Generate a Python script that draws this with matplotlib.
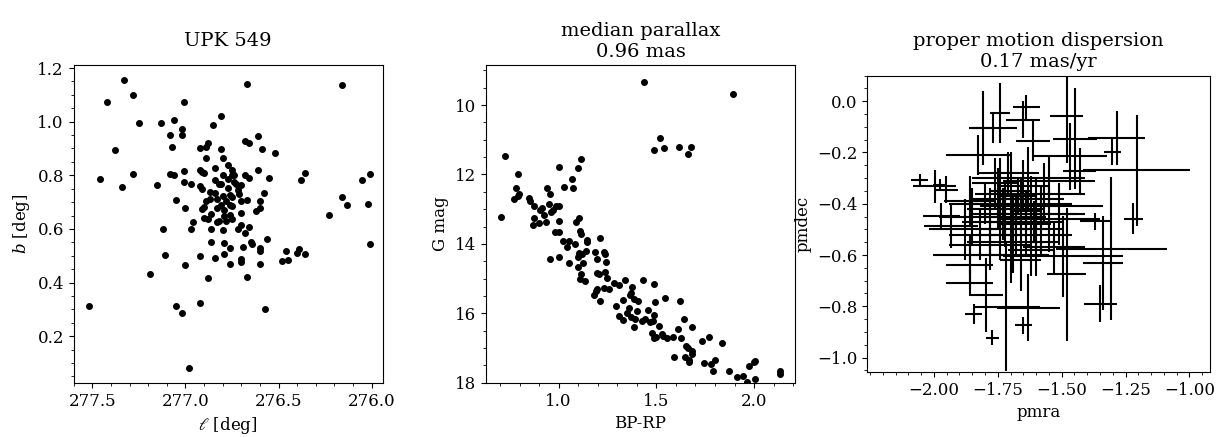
import matplotlib.pyplot as plt
from matplotlib.ticker import AutoMinorLocator

plt.rcParams["font.family"] = "DejaVu Serif"
plt.rcParams["font.size"] = 12
plt.rcParams["mathtext.fontset"] = "dejavuserif"

# panel 1: galactic coordinates
gal_l = [277.52, 277.46, 277.42, 277.38, 277.33, 277.34, 277.28, 277.28, 277.25, 277.19,
         277.15, 277.13, 277.12, 277.11, 277.08, 277.07, 277.06, 277.08, 277.06, 277.05,
         277.05, 277.02, 277.02, 277.02, 277.01, 277.01, 277.01, 277.00, 277.00, 276.98,
         276.97, 276.97, 276.96, 276.92, 276.92, 276.92, 276.92, 276.91, 276.90, 276.92,
         276.91, 276.89, 276.89, 276.88, 276.91, 276.90, 276.89, 276.90, 276.88, 276.88,
         276.87, 276.87, 276.86, 276.86, 276.86, 276.85, 276.84, 276.84, 276.84, 276.84,
         276.83, 276.83, 276.83, 276.82, 276.82, 276.81, 276.81, 276.81, 276.81, 276.80,
         276.80, 276.80, 276.80, 276.79, 276.79, 276.79, 276.79, 276.78, 276.78, 276.77,
         276.77, 276.77, 276.76, 276.76, 276.76, 276.76, 276.76, 276.75, 276.75, 276.75,
         276.75, 276.75, 276.74, 276.74, 276.73, 276.72, 276.72, 276.71, 276.70, 276.70,
         276.70, 276.70, 276.70, 276.70, 276.69, 276.68, 276.68, 276.68, 276.67, 276.67,
         276.67, 276.66, 276.66, 276.66, 276.65, 276.64, 276.62, 276.61, 276.61, 276.60,
         276.60, 276.60, 276.60, 276.60, 276.59, 276.58, 276.56, 276.57, 276.55, 276.52,
         276.48, 276.46, 276.45, 276.40, 276.39, 276.38, 276.36, 276.36, 276.23, 276.16,
         276.16, 276.13, 276.05, 276.02, 276.01, 276.01]
gal_b = [0.312, 0.785, 1.072, 0.896, 1.156, 0.755, 1.100, 0.806, 0.996, 0.431,
         0.762, 0.996, 0.598, 0.504, 0.950, 0.907, 1.007, 0.806, 0.800, 0.708,
         0.312, 0.285, 0.950, 0.974, 1.072, 0.816, 0.775, 0.678, 0.466, 0.083,
         0.598, 0.769, 0.624, 0.500, 0.322, 0.903, 0.821, 0.814, 0.810, 0.760,
         0.750, 0.863, 0.906, 0.919, 0.676, 0.682, 0.704, 0.642, 0.417, 0.636,
         0.739, 0.711, 0.601, 0.552, 0.656, 0.986, 0.733, 0.829, 0.781, 0.493,
         0.679, 0.625, 0.711, 0.767, 0.628, 0.688, 1.022, 0.899, 0.767, 0.595,
         0.865, 0.801, 0.722, 0.507, 0.549, 0.647, 0.671, 0.631, 0.704, 0.752,
         0.788, 0.840, 0.726, 0.651, 0.471, 0.529, 0.688, 0.636, 0.718, 0.821,
         0.802, 0.684, 0.776, 0.801, 0.769, 0.747, 0.598, 0.730, 0.486, 0.476,
         0.660, 0.614, 0.704, 0.763, 0.532, 0.801, 0.584, 0.928, 1.139, 0.708,
         0.421, 0.606, 0.920, 0.789, 0.550, 0.543, 0.668, 0.948, 0.821, 0.528,
         0.517, 0.471, 0.704, 0.678, 0.898, 0.733, 0.562, 0.303, 0.791, 0.882,
         0.482, 0.516, 0.485, 0.512, 0.525, 0.784, 0.506, 0.810, 0.652, 1.137,
         0.720, 0.690, 0.783, 0.694, 0.543, 0.805]

# panel 2: colour-magnitude diagram
bp_rp = [0.705, 0.726, 0.790, 0.780, 0.773, 0.792, 0.795, 0.848, 0.855, 0.876,
         0.872, 0.867, 0.900, 0.906, 0.915, 0.923, 0.934, 0.940, 0.952, 0.956,
         0.961, 0.973, 0.985, 1.000, 1.000, 1.000, 0.980, 1.000, 0.956, 1.000,
         1.020, 1.026, 1.044, 1.053, 1.055, 1.070, 1.072, 1.082, 1.087, 1.100,
         1.114, 1.104, 1.112, 1.114, 1.102, 1.099, 1.120, 1.123, 1.100, 1.116,
         1.110, 1.133, 1.140, 1.145, 1.145, 1.186, 1.196, 1.196, 1.206, 1.213,
         1.230, 1.237, 1.242, 1.237, 1.248, 1.190, 1.197, 1.182, 1.211, 1.230,
         1.256, 1.285, 1.308, 1.295, 1.307, 1.332, 1.330, 1.342, 1.350, 1.360,
         1.366, 1.370, 1.378, 1.385, 1.368, 1.385, 1.391, 1.400, 1.404, 1.428,
         1.430, 1.436, 1.443, 1.458, 1.469, 1.477, 1.484, 1.487, 1.491, 1.487,
         1.486, 1.486, 1.498, 1.516, 1.520, 1.528, 1.535, 1.538, 1.544, 1.554,
         1.583, 1.591, 1.613, 1.617, 1.622, 1.625, 1.641, 1.649, 1.652, 1.661,
         1.663, 1.668, 1.668, 1.678, 1.685, 1.680, 1.680, 1.734, 1.743, 1.769,
         1.781, 1.790, 1.800, 1.838, 1.870, 1.893, 1.912, 1.944, 1.966, 1.976,
         1.999, 2.007, 2.007, 2.133, 2.135]
g_mag = [13.22, 11.48, 11.99, 12.38, 12.72, 12.61, 12.57, 12.69, 12.76, 12.90,
         13.24, 13.46, 13.40, 13.01, 12.96, 13.16, 13.37, 12.40, 12.84, 12.55,
         13.07, 13.01, 12.91, 11.78, 12.90, 13.33, 13.65, 13.66, 14.43, 14.39,
         13.93, 12.35, 14.09, 13.91, 14.54, 12.14, 12.39, 13.99, 13.37, 11.82,
         11.56, 13.24, 13.64, 13.71, 14.26, 14.37, 14.29, 14.55, 14.66, 14.88,
         15.02, 15.07, 14.19, 13.88, 13.95, 14.22, 14.42, 14.83, 14.88, 13.83,
         14.24, 14.80, 14.52, 14.29, 14.98, 15.35, 15.31, 15.46, 15.65, 15.28,
         15.31, 15.13, 15.17, 15.79, 16.08, 15.61, 16.20, 15.04, 15.98, 15.84,
         15.48, 15.42, 15.24, 15.60, 16.10, 16.38, 16.15, 15.93, 15.64, 16.21,
         15.04, 9.34, 16.17, 15.89, 16.25, 16.57, 16.22, 15.14, 15.67, 16.06,
         16.70, 11.29, 16.69, 16.35, 10.94, 16.58, 16.65, 11.24, 15.56, 16.71,
         16.69, 17.25, 16.44, 11.22, 15.64, 16.71, 16.15, 17.25, 16.93, 11.42,
         17.01, 17.34, 17.41, 11.22, 16.40, 17.16, 17.07, 16.80, 17.43, 16.67,
         17.46, 17.66, 17.33, 16.84, 17.65, 9.67, 17.83, 17.80, 17.97, 17.52,
         17.40, 17.38, 17.89, 17.65, 17.74]

# panel 3: proper motions with uncertainties
pmra = [-2.056, -1.978, -1.997, -1.971, -1.952, -1.932, -1.844, -1.771, -1.651, -1.631,
        -1.348, -1.220, -1.301, -1.207, -1.285, -1.638, -1.651, -1.808, -1.743, -1.612,
        -1.448, -1.481, -1.370, -1.305, -1.337, -1.481, -1.494, -1.860, -1.795, -1.716,
        -1.860, -1.860, -1.769, -1.429, -1.827, -1.468,
        -1.75, -1.72, -1.70, -1.68, -1.66, -1.64, -1.62, -1.60, -1.58, -1.78,
        -1.80, -1.74, -1.69, -1.65, -1.63, -1.71, -1.76, -1.67, -1.64, -1.69,
        -1.72, -1.60, -1.55, -1.57, -1.82, -1.85, -1.62, -1.70, -1.66, -1.58,
        -1.74, -1.53, -1.78, -1.61, -1.68, -1.86, -1.55, -1.88, -1.51, -1.73]
pmdec = [-0.308, -0.325, -0.332, -0.449, -0.345, -0.488, -0.829, -0.923, -0.875, -0.806,
         -0.790, -0.458, -0.198, -0.270, -0.143, -0.022, -0.072, -0.104, -0.046, -0.156,
         -0.146, -0.059, -0.468, -0.575, -0.631, -0.676, -0.605, -0.598, -0.755, -0.803,
         -0.638, -0.708, -0.104, -0.273, -0.208, -0.215,
         -0.38, -0.42, -0.35, -0.45, -0.40, -0.48, -0.38, -0.44, -0.50, -0.47,
         -0.40, -0.52, -0.55, -0.33, -0.30, -0.28, -0.32, -0.37, -0.43, -0.42,
         -0.47, -0.52, -0.46, -0.36, -0.52, -0.45, -0.58, -0.60, -0.62, -0.41,
         -0.36, -0.57, -0.56, -0.47, -0.50, -0.39, -0.31, -0.50, -0.44, -0.44]
pmra_err = [0.033, 0.026, 0.085, 0.072, 0.046, 0.105, 0.033, 0.024, 0.033, 0.124,
            0.063, 0.037, 0.033, 0.209, 0.111, 0.052, 0.065, 0.046, 0.039, 0.065,
            0.085, 0.065, 0.059, 0.216, 0.078, 0.078, 0.235, 0.144, 0.065, 0.131,
            0.092, 0.092, 0.095, 0.065, 0.124, 0.144,
            0.10, 0.15, 0.08, 0.12, 0.20, 0.10, 0.13, 0.16, 0.09, 0.11,
            0.14, 0.10, 0.18, 0.10, 0.22, 0.12, 0.09, 0.07, 0.06, 0.05,
            0.08, 0.14, 0.20, 0.16, 0.12, 0.13, 0.09, 0.15, 0.08, 0.24,
            0.10, 0.12, 0.16, 0.11, 0.14, 0.10, 0.18, 0.14, 0.10, 0.13]
pmdec_err = [0.026, 0.020, 0.065, 0.052, 0.052, 0.085, 0.039, 0.029, 0.033, 0.130,
             0.072, 0.059, 0.052, 0.215, 0.104, 0.046, 0.072, 0.143, 0.117, 0.078,
             0.196, 0.183, 0.033, 0.280, 0.183, 0.260, 0.157, 0.078, 0.144, 0.248,
             0.092, 0.050, 0.060, 0.091, 0.078, 0.130,
             0.12, 0.10, 0.15, 0.08, 0.10, 0.12, 0.09, 0.14, 0.10, 0.13,
             0.08, 0.10, 0.12, 0.10, 0.12, 0.08, 0.10, 0.07, 0.08, 0.06,
             0.10, 0.16, 0.13, 0.12, 0.10, 0.11, 0.10, 0.11, 0.12, 0.08,
             0.14, 0.10, 0.10, 0.08, 0.10, 0.10, 0.10, 0.12, 0.12, 0.10]

fig = plt.figure(figsize=(12.27, 4.37), dpi=100)
ax1 = fig.add_axes([0.060, 0.124, 0.252, 0.727])
ax2 = fig.add_axes([0.396, 0.124, 0.252, 0.727])
ax3 = fig.add_axes([0.707, 0.149, 0.279, 0.678])

ax1.scatter(gal_l, gal_b, s=16, c="k")
ax1.set_xlim(277.6, 275.94)
ax1.set_ylim(0.026, 1.211)
ax1.set_xlabel(r"$\ell$ [deg]")
ax1.set_ylabel(r"$b$ [deg]")
ax1.set_title("UPK 549", pad=14, fontsize=14)

ax2.scatter(bp_rp, g_mag, s=16, c="k")
ax2.set_xlim(0.628, 2.21)
ax2.set_ylim(18, 8.85)
ax2.set_xlabel("BP-RP")
ax2.set_ylabel("G mag")
ax2.set_title("median parallax\n0.96 mas", fontsize=14)

ax3.errorbar(pmra, pmdec, xerr=pmra_err, yerr=pmdec_err, fmt="none",
             ecolor="k", elinewidth=1.5)
ax3.set_xlim(-2.26, -0.92)
ax3.set_ylim(-1.056, 0.10)
ax3.set_xticks([-2.0, -1.75, -1.5, -1.25, -1.0])
ax3.set_xlabel("pmra")
ax3.set_ylabel("pmdec")
ax3.set_title("proper motion dispersion\n0.17 mas/yr", fontsize=14)

for ax in (ax1, ax2, ax3):
    ax.xaxis.set_minor_locator(AutoMinorLocator())
    ax.yaxis.set_minor_locator(AutoMinorLocator())

fig.savefig("out.png", dpi=100)
